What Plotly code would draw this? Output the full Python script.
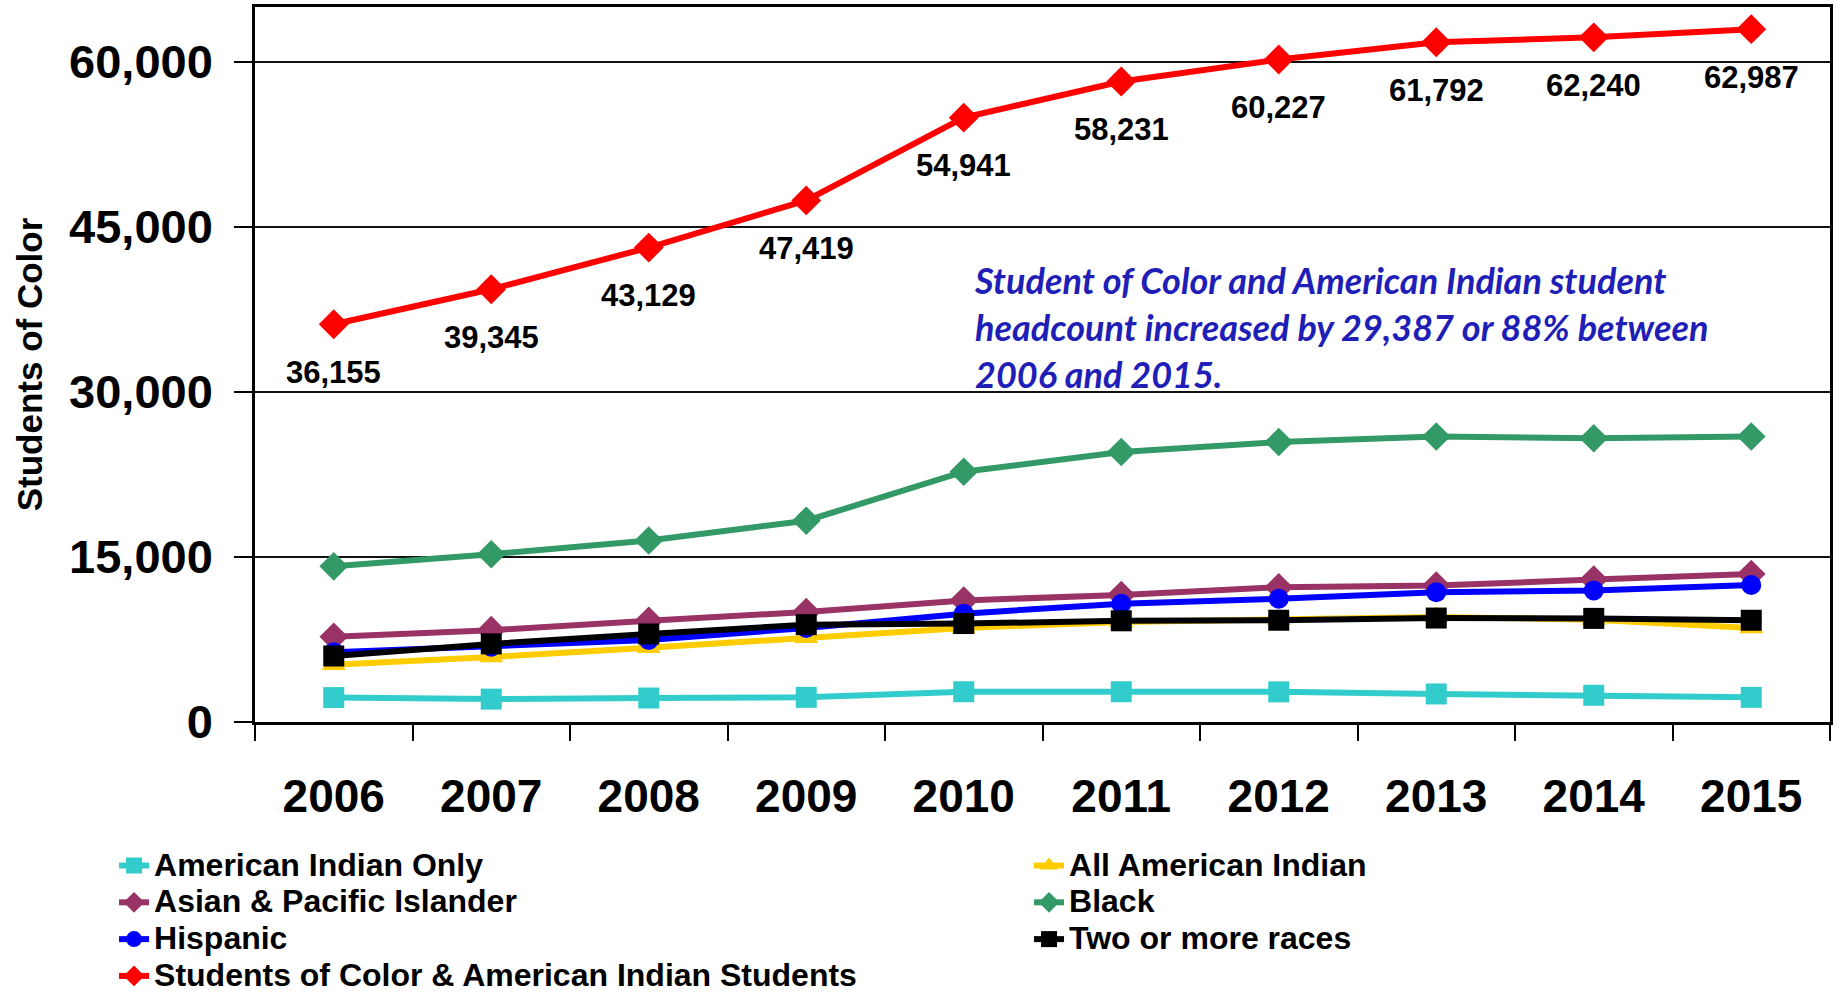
import plotly.graph_objects as go

# Headcount by group, fall terms 2006-2015
years = ["2006", "2007", "2008", "2009", "2010", "2011", "2012", "2013", "2014", "2015"]

american_indian_only = [2220, 2080, 2180, 2240, 2750, 2750, 2740, 2550, 2430, 2240]
all_american_indian = [5200, 5900, 6750, 7650, 8550, 9100, 9300, 9550, 9300, 8550]
asian_pacific = [7750, 8350, 9200, 10000, 11050, 11550, 12250, 12400, 12950, 13450]
black = [14150, 15250, 16500, 18300, 22750, 24550, 25450, 25950, 25800, 25950]
hispanic = [6350, 6850, 7450, 8550, 9850, 10750, 11200, 11800, 11950, 12450]
two_or_more = [6000, 7100, 8000, 8850, 8950, 9200, 9250, 9450, 9420, 9250]
students_of_color = [36155, 39345, 43129, 47419, 54941, 58231, 60227, 61792, 62240, 62987]

series = [
    ("American Indian Only", american_indian_only, "#33CCCC", "square", 21),
    ("All American Indian", all_american_indian, "#FFCC00", "triangle-up", 21),
    ("Asian & Pacific Islander", asian_pacific, "#993366", "diamond", 22),
    ("Black", black, "#339966", "diamond", 22),
    ("Hispanic", hispanic, "#0000FF", "circle", 20),
    ("Two or more races", two_or_more, "#000000", "square", 21),
    ("Students of Color & American Indian Students", students_of_color, "#FF0000", "diamond", 23),
]

FONT = "Liberation Sans, Arial, sans-serif"

fig = go.Figure()
for name, vals, color, symbol, size in series:
    fig.add_trace(go.Scatter(
        x=years, y=vals, name=f'<span style="font-size:32px">{name}</span>',
        mode="lines+markers",
        line=dict(color=color, width=6),
        marker=dict(symbol=symbol, size=size, color=color, line=dict(width=0)),
    ))

# value labels under the total series (category index on the x axis)
for i, v in enumerate(students_of_color):
    fig.add_annotation(
        x=i, y=v, text=f"{v:,}", showarrow=False, xanchor="center", yanchor="middle",
        yshift=-48, font=dict(family=FONT, size=31, color="black", weight="bold"),
    )

fig.add_annotation(
    xref="paper", yref="paper", x=0.455, y=0.552, xanchor="left", yanchor="middle",
    align="left", showarrow=False,
    text="Student of Color and American Indian student<br>"
         "headcount increased by 29,387 or 88% between<br>"
         "2006 and 2015.",
    font=dict(family="Lato, Open Sans, sans-serif", size=36, color="#1F1FB8",
              weight="bold", style="italic"),
)

fig.update_xaxes(
    type="category", range=[-0.5, 9.5], tickson="boundaries",
    ticks="outside", ticklen=16, tickwidth=2, tickcolor="black",
    showline=True, linecolor="black", linewidth=3, mirror=True,
    showgrid=False, ticklabelstandoff=32,
    tickfont=dict(family=FONT, size=46, color="black", weight="bold"),
)
fig.update_yaxes(
    range=[0, 65000], tick0=0, dtick=15000, tickformat=",",
    ticks="outside", ticklen=18, tickwidth=2, tickcolor="black",
    showline=True, linecolor="black", linewidth=2.5, mirror=True,
    showgrid=True, gridcolor="#111111", gridwidth=2, zeroline=False,
    ticklabelstandoff=12,
    tickfont=dict(family=FONT, size=47, color="black", weight="bold"),
    title=dict(text="Students of Color", standoff=16,
               font=dict(family=FONT, size=35, color="black", weight="bold")),
)

fig.update_layout(
    width=1839, height=993,
    margin=dict(l=255, r=9, t=7, b=271, autoexpand=False),
    paper_bgcolor="white", plot_bgcolor="white",
    showlegend=True,
    legend=dict(
        orientation="h", x=-0.0895, xanchor="left", y=-0.168, yanchor="top",
        entrywidth=870, entrywidthmode="pixels", itemsizing="trace",
        font=dict(family=FONT, size=26, color="black", weight="bold"),
        bgcolor="rgba(0,0,0,0)", borderwidth=0, traceorder="normal",
    ),
)

fig.write_html("out.html")
